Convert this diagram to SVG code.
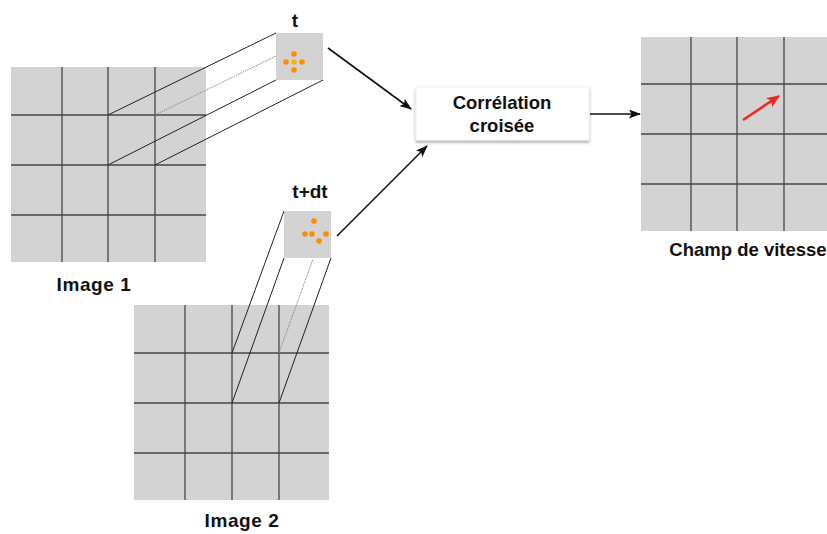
<svg xmlns="http://www.w3.org/2000/svg" width="827" height="534" viewBox="0 0 827 534">
<style>
.cell{fill:#d3d3d3}
.grid{stroke:#474747;stroke-width:1.3;fill:none}
.proj{stroke:#222;stroke-width:1;fill:none}
.hid{stroke:#888;stroke-width:1;fill:none;stroke-dasharray:1.5 1}
.lbl{font-family:"Liberation Sans",Arial,sans-serif;font-weight:bold;font-size:18.5px;fill:#111;text-anchor:middle}
.big{font-size:19px;letter-spacing:0.6px}
.conn{stroke:#111;stroke-width:1.6;fill:none}
.dot{fill:#ff8c00}
</style>
<defs>
<marker id="ah" markerWidth="12" markerHeight="9" refX="11" refY="4.5" orient="auto" markerUnits="userSpaceOnUse">
<path d="M0,0 L12,4.5 L0,9 L2.5,4.5 z" fill="#111"/>
</marker>
<marker id="ahr" markerWidth="13" markerHeight="11" refX="12" refY="5.5" orient="auto" markerUnits="userSpaceOnUse">
<path d="M0,0 L13,5.5 L0,11 L3,5.5 z" fill="#f0281a"/>
</marker>
<filter id="sh" x="-10%" y="-10%" width="120%" height="130%">
<feGaussianBlur in="SourceAlpha" stdDeviation="1.5"/>
<feOffset dy="2"/>
<feComponentTransfer><feFuncA type="linear" slope="0.35"/></feComponentTransfer>
<feMerge><feMergeNode/><feMergeNode in="SourceGraphic"/></feMerge>
</filter>
</defs>

<g id="image1">
<rect class="cell" x="11" y="67" width="195" height="195"/>
<path class="grid" d="M62,67V262M108,67V262M155,67V262M11,115H206M11,165H206M11,215H206"/>
<text class="lbl big" x="94" y="291">Image 1</text>
</g>

<g id="image2">
<rect class="cell" x="134" y="305" width="195" height="195"/>
<path class="grid" d="M185,305V500M232,305V500M279,305V500M134,353H329M134,403H329M134,453H329"/>
<text class="lbl big" x="242" y="527">Image 2</text>
</g>

<g id="window-t">
<path class="hid" d="M155,115L276,56"/>
<path class="proj" d="M108,115L276,33M108,165L276,80M155,165L323,80"/>
<rect class="cell" x="276" y="33" width="47" height="47"/>
<circle class="dot" cx="294" cy="54" r="2.8"/>
<circle class="dot" cx="286" cy="62" r="2.8"/>
<circle class="dot" cx="302" cy="62" r="2.8"/>
<circle class="dot" cx="294" cy="70" r="2.8"/>
<circle cx="294" cy="62" r="2.8" fill="#f5b50c"/>
<text class="lbl" x="295" y="27" style="font-size:19px">t</text>
</g>

<g id="window-tdt">
<path class="hid" d="M279,353L313,259"/>
<path class="proj" d="M232,353L284,211M232,403L284,258M279,403L331,258"/>
<rect class="cell" x="284" y="211" width="47" height="47"/>
<circle class="dot" cx="314" cy="221" r="2.8"/>
<circle class="dot" cx="305" cy="234" r="2.8"/>
<circle class="dot" cx="312" cy="234" r="2.8"/>
<circle class="dot" cx="326" cy="234" r="2.8"/>
<circle class="dot" cx="319" cy="241" r="2.8"/>
<text class="lbl" x="310" y="198" style="font-size:19px">t+dt</text>
</g>

<g id="correlation">
<rect x="416" y="87" width="173" height="53" fill="#fff" stroke="#f0f0f0" stroke-width="1" filter="url(#sh)"/>
<text class="lbl" x="502" y="109">Corrélation</text>
<text class="lbl" x="502" y="132">croisée</text>
</g>

<g id="champ">
<rect class="cell" x="641" y="37" width="190" height="194"/>
<path class="grid" d="M691,37V231M737,37V231M784,37V231M641,84H827M641,134H827M641,184H827"/>
<line x1="743" y1="120" x2="779" y2="96" stroke="#f0281a" stroke-width="2.5" marker-end="url(#ahr)"/>
<text class="lbl" x="748" y="256">Champ de vitesse</text>
</g>

<g id="connectors">
<line class="conn" x1="328" y1="48" x2="411" y2="109" marker-end="url(#ah)"/>
<line class="conn" x1="337" y1="236" x2="427" y2="146" marker-end="url(#ah)"/>
<line class="conn" x1="590" y1="114" x2="640" y2="114" marker-end="url(#ah)"/>
</g>
</svg>
